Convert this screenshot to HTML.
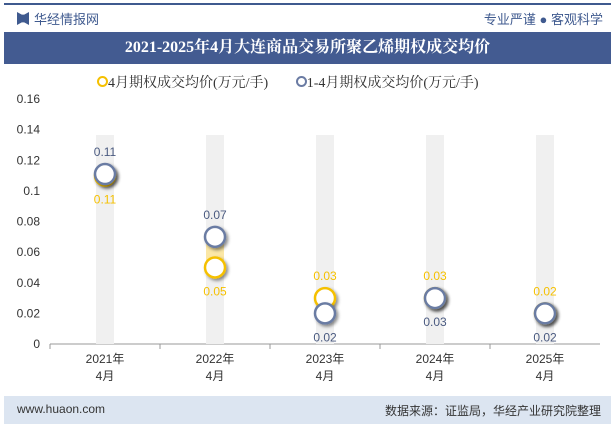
<!DOCTYPE html>
<html><head><meta charset="utf-8"><style>
body{margin:0;width:615px;height:427px;background:#fff;font-family:"Liberation Sans","Noto Sans CJK SC",sans-serif;position:relative;overflow:hidden}
.abs{position:absolute}
</style></head><body>
<div class="abs" style="left:4px;top:3px;width:607px;height:2px;background:#3f5a8f"></div>
<div class="abs" style="left:17px;top:12px;width:12px;height:13px;background:#3f5a8f;clip-path:polygon(0 0,40% 20%,60% 20%,100% 0,100% 100%,60% 80%,40% 80%,0 100%)"></div>
<div class="abs" style="left:34px;top:9px;font-size:13px;color:#3f5a8f">华经情报网</div>
<div class="abs" style="right:12px;top:9px;font-size:13px;color:#3f5a8f">专业严谨 ● 客观科学</div>
<div class="abs" style="left:4px;top:32px;width:607px;height:32px;background:#435b91;color:#fff;font-family:'Liberation Serif','Noto Serif CJK SC',serif;font-weight:bold;font-size:16px;line-height:32px;text-align:center">2021-2025年4月大连商品交易所聚乙烯期权成交均价</div>
<div class="abs" style="left:97px;top:72px;font-size:14px;color:#333;font-family:'Liberation Serif','Noto Serif CJK SC',serif;white-space:nowrap">
<span><span style="display:inline-block;width:7px;height:7px;border:2px solid #f5c000;border-radius:50%"></span>4月期权成交均价(万元/手)</span>
<span style="margin-left:24px"><span style="display:inline-block;width:7px;height:7px;border:2px solid #6a7ba3;border-radius:50%"></span>1-4月期权成交均价(万元/手)</span></div>
<svg class="abs" style="left:0;top:0" width="615" height="427" id="chart"></svg>
<div class="abs" style="left:4px;top:396px;width:607px;height:28px;background:#dce5f1"></div>
<div class="abs" style="left:17px;top:402px;font-size:12px;color:#333">www.huaon.com</div>
<div class="abs" style="right:14px;top:402px;font-size:12px;color:#333">数据来源：证监局，华经产业研究院整理</div>
<script>
const categories=["2021年","2022年","2023年","2024年","2025年"];
const aprilVals=[0.11,0.05,0.03,0.03,0.02];
const ytdVals=[0.111,0.07,0.02,0.03,0.02];
const aprilLabels=["0.11","0.05","0.03","0.03","0.02"];
const ytdLabels=["0.11","0.07","0.02","0.03","0.02"];
const yTicks=[0,0.02,0.04,0.06,0.08,0.1,0.12,0.14,0.16];
const svg=document.getElementById('chart');const NS='http://www.w3.org/2000/svg';
const y0=344,y1=99,x0=50,step=110;
const y=v=>y0-(v/0.16)*(y0-y1);const x=i=>x0+step*(i+0.5);
function mk(t,a,p){const e=document.createElementNS(NS,t);for(const k in a)e.setAttribute(k,a[k]);(p||svg).appendChild(e);return e;}
svg.innerHTML='<defs><filter id="sh" x="-50%" y="-50%" width="200%" height="200%"><feDropShadow dx="2" dy="2" stdDeviation="1.5" flood-color="#000" flood-opacity="0.45"/></filter></defs>';
yTicks.forEach(t=>{const e=mk('text',{x:40,y:y(t)+4,'text-anchor':'end','font-size':12,fill:'#333'});e.textContent=String(t);

});
const ax=mk('line',{x1:x0,y1:y0,x2:600,y2:y0,stroke:'#999'});


categories.forEach((c,i)=>{
const bg=mk('rect',{x:x(i)-9,y:135,width:18,height:y0-135,fill:'#f0f0f0'});


const tk=mk('line',{x1:x0+step*i,y1:y0,x2:x0+step*i,y2:y0+5,stroke:'#999'});


const t1=mk('text',{x:x(i),y:363,'text-anchor':'middle','font-size':12,fill:'#333'});t1.textContent=c;


const t2=mk('text',{x:x(i),y:380,'text-anchor':'middle','font-size':12,fill:'#333'});t2.textContent='4月';


const ya=y(aprilVals[i]),yb=y(ytdVals[i]);
const band=mk('rect',{x:x(i)-9,y:Math.min(ya,yb),width:18,height:Math.abs(ya-yb),fill:'#fbe7a6'});


const up=ytdVals[i]>aprilVals[i];
const pa=mk('circle',{cx:x(i),cy:ya,r:10,fill:'#fff',stroke:'#f5c000','stroke-width':2.5,filter:'url(#sh)'});


const pb=mk('circle',{cx:x(i),cy:yb,r:10,fill:'#fff',stroke:'#6a7ba3','stroke-width':2.5,filter:'url(#sh)'});


const la=mk('text',{x:x(i),y:up?ya+28:ya-18,'text-anchor':'middle','font-size':12,fill:'#f5c000'});la.textContent=aprilLabels[i];


const lb=mk('text',{x:x(i),y:up?yb-18:yb+28,'text-anchor':'middle','font-size':12,fill:'#4a5a80'});lb.textContent=ytdLabels[i];


});
</script>
</body></html>
